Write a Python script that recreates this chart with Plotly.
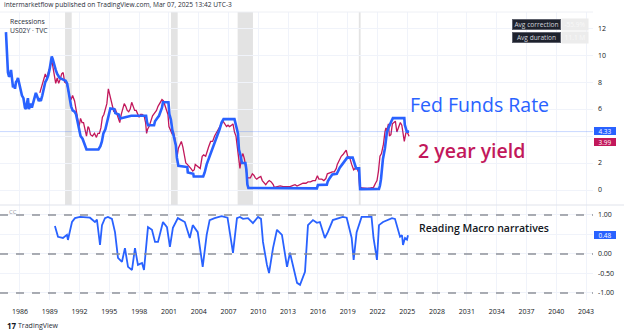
import plotly.graph_objects as go
from plotly.subplots import make_subplots

# ---- data (decimal years) ----
fed_funds_t = [1984.59, 1984.65, 1984.72, 1984.79, 1984.9, 1985.0, 1985.1, 1985.2, 1985.3, 1985.4, 1985.5,
               1985.6, 1985.7, 1985.8, 1985.9, 1986.0, 1986.1, 1986.2, 1986.35, 1986.5, 1986.6, 1986.7,
               1986.8, 1986.9, 1987.0, 1987.1, 1987.2, 1987.35, 1987.5, 1987.6, 1987.7, 1987.8, 1987.9,
               1988.0, 1988.1, 1988.25, 1988.4, 1988.55, 1988.7, 1988.85, 1989.0, 1989.1, 1989.2, 1989.3,
               1989.45, 1989.6, 1989.75, 1990.0, 1990.3, 1990.6, 1990.75, 1990.9, 1991.0, 1991.15, 1991.3,
               1991.5, 1991.65, 1991.8, 1991.95, 1992.1, 1992.3, 1992.55, 1992.7, 1993.9, 1994.1, 1994.25,
               1994.4, 1994.6, 1994.8, 1995.0, 1995.1, 1995.5, 1995.6, 1995.95, 1996.1, 1997.2, 1998.7,
               1998.8, 1998.9, 1999.5, 1999.6, 1999.8, 2000.0, 2000.15, 2000.3, 2000.4, 2000.95, 2001.05,
               2001.2, 2001.35, 2001.5, 2001.7, 2001.8, 2001.95, 2002.85, 2002.9, 2003.45, 2003.5, 2004.45,
               2004.6, 2004.8, 2005.0, 2005.3, 2005.6, 2005.9, 2006.1, 2006.3, 2006.5, 2007.6, 2007.75,
               2007.85, 2007.95, 2008.05, 2008.2, 2008.35, 2008.7, 2008.8, 2008.9, 2009.0, 2015.9, 2016.0,
               2016.9, 2017.0, 2017.2, 2017.45, 2017.9, 2018.0, 2018.2, 2018.45, 2018.7, 2018.95, 2019.5,
               2019.6, 2019.75, 2019.85, 2020.15, 2020.2, 2020.25, 2022.15, 2022.25, 2022.35, 2022.45,
               2022.55, 2022.75, 2022.85, 2022.95, 2023.1, 2023.25, 2023.4, 2023.55, 2024.7, 2024.75,
               2024.85, 2024.95, 2025.18]
fed_funds_v = [11.7, 11.0, 9.6, 8.7, 8.4, 8.5, 8.9, 8.1, 7.6, 7.8, 7.5,
               8.0, 8.1, 8.3, 8.0, 7.8, 7.3, 7.0, 6.8, 6.1, 6.0, 6.6,
               6.8, 6.0, 6.2, 6.4, 6.1, 6.6, 7.0, 7.2, 7.0, 6.8, 6.6,
               6.7, 6.6, 7.0, 7.6, 8.0, 8.2, 8.5, 9.0, 9.6, 9.9, 9.7,
               9.2, 8.9, 8.6, 8.3, 8.2, 8.1, 7.9, 7.3, 6.6, 6.2, 5.9,
               5.8, 5.6, 5.0, 4.4, 4.0, 3.8, 3.2, 3.0, 3.0, 3.25, 3.6,
               4.2, 4.5, 5.2, 5.9, 6.05, 6.0, 5.7, 5.6, 5.3, 5.5, 5.5,
               5.0, 4.8, 4.8, 5.1, 5.3, 5.5, 5.8, 6.1, 6.5, 6.5, 5.6,
               5.2, 4.4, 3.8, 3.3, 2.4, 1.8, 1.7, 1.3, 1.2, 1.0, 1.0,
               1.3, 1.9, 2.3, 2.8, 3.4, 4.0, 4.5, 5.0, 5.25, 5.25, 4.9,
               4.5, 4.2, 3.0, 2.6, 2.0, 2.0, 1.5, 0.4, 0.15, 0.12, 0.37,
               0.4, 0.65, 0.9, 1.15, 1.2, 1.4, 1.65, 1.9, 2.15, 2.4, 2.4,
               2.15, 1.9, 1.6, 1.6, 0.65, 0.07, 0.08, 0.33, 0.8, 1.6,
               2.3, 3.1, 3.8, 4.3, 4.6, 4.8, 5.1, 5.33, 5.33, 4.83,
               4.6, 4.33, 4.33]

us02y_t = [1988.0, 1988.15, 1988.3, 1988.4, 1988.55, 1988.7, 1988.9, 1989.0, 1989.2, 1989.3, 1989.45,
           1989.6, 1989.75, 1989.9, 1990.05, 1990.2, 1990.35, 1990.5, 1990.7, 1990.85, 1991.0, 1991.15,
           1991.3, 1991.5, 1991.6, 1991.75, 1991.95, 1992.1, 1992.25, 1992.4, 1992.55, 1992.7, 1992.85,
           1992.95, 1993.1, 1993.3, 1993.5, 1993.7, 1993.85, 1994.0, 1994.15, 1994.3, 1994.45, 1994.6,
           1994.75, 1994.9, 1995.0, 1995.15, 1995.3, 1995.45, 1995.6, 1995.8, 1995.95, 1996.05, 1996.2,
           1996.35, 1996.5, 1996.65, 1996.8, 1996.95, 1997.1, 1997.25, 1997.4, 1997.55, 1997.7, 1997.85,
           1998.0, 1998.15, 1998.3, 1998.5, 1998.65, 1998.75, 1998.85, 1999.0, 1999.2, 1999.35, 1999.55,
           1999.75, 1999.9, 2000.1, 2000.3, 2000.45, 2000.6, 2000.75, 2000.9, 2001.0, 2001.15, 2001.3,
           2001.45, 2001.6, 2001.75, 2001.85, 2001.95, 2002.1, 2002.25, 2002.4, 2002.55, 2002.7, 2002.85,
           2003.0, 2003.2, 2003.4, 2003.55, 2003.65, 2003.85, 2004.0, 2004.15, 2004.35, 2004.5, 2004.7,
           2004.85, 2005.0, 2005.2, 2005.4, 2005.6, 2005.8, 2006.0, 2006.2, 2006.45, 2006.6, 2006.8,
           2006.95, 2007.1, 2007.3, 2007.45, 2007.6, 2007.75, 2007.9, 2008.05, 2008.15, 2008.3, 2008.45,
           2008.6, 2008.75, 2008.9, 2009.05, 2009.2, 2009.4, 2009.55, 2009.7, 2009.85, 2010.0, 2010.25,
           2010.4, 2010.55, 2010.75, 2010.95, 2011.1, 2011.3, 2011.5, 2011.6, 2011.9, 2012.2, 2012.5,
           2012.9, 2013.2, 2013.5, 2013.7, 2013.9, 2014.2, 2014.5, 2014.8, 2015.0, 2015.25, 2015.5,
           2015.75, 2015.95, 2016.1, 2016.4, 2016.6, 2016.8, 2016.95, 2017.2, 2017.45, 2017.65, 2017.85,
           2017.95, 2018.15, 2018.35, 2018.55, 2018.75, 2018.85, 2019.0, 2019.2, 2019.4, 2019.6, 2019.75,
           2019.95, 2020.1, 2020.2, 2020.4, 2020.7, 2021.0, 2021.3, 2021.6, 2021.8, 2021.95, 2022.1,
           2022.25, 2022.4, 2022.5, 2022.6, 2022.75, 2022.85, 2022.95, 2023.1, 2023.2, 2023.35, 2023.5,
           2023.65, 2023.8, 2023.95, 2024.1, 2024.3, 2024.45, 2024.6, 2024.7, 2024.85, 2024.95, 2025.05,
           2025.18]
us02y_v = [7.2, 7.6, 7.9, 8.3, 8.6, 8.3, 8.9, 9.2, 9.6, 9.2, 8.4,
           7.9, 8.3, 7.9, 8.2, 8.6, 8.7, 8.0, 7.9, 7.3, 6.9, 6.7,
           7.0, 6.6, 6.2, 5.5, 4.7, 5.3, 5.0, 5.0, 4.4, 4.0, 4.7,
           4.6, 4.1, 4.0, 4.2, 3.9, 4.2, 4.2, 4.6, 5.4, 5.6, 6.0,
           6.4, 7.5, 7.2, 6.9, 6.4, 5.8, 6.0, 5.6, 5.2, 5.0, 5.6,
           6.1, 6.4, 6.2, 5.9, 5.8, 6.0, 6.5, 6.2, 5.9, 5.9, 5.7,
           5.4, 5.6, 5.6, 5.5, 5.0, 4.2, 4.5, 4.7, 5.1, 5.5, 5.7,
           5.9, 6.2, 6.5, 6.7, 6.6, 6.3, 6.0, 5.6, 4.7, 4.5, 4.2,
           4.3, 3.8, 3.0, 2.6, 3.1, 3.3, 3.6, 3.2, 2.4, 2.0, 1.9,
           1.8, 1.6, 1.4, 1.5, 1.9, 1.8, 1.7, 1.6, 2.5, 2.6, 2.5,
           2.9, 3.2, 3.6, 3.6, 4.0, 4.3, 4.5, 4.8, 5.1, 4.9, 4.7,
           4.8, 4.7, 4.8, 4.9, 4.3, 4.0, 3.1, 2.1, 1.6, 2.4, 2.7,
           2.3, 1.6, 0.9, 0.9, 0.9, 1.2, 1.1, 0.9, 0.8, 0.9, 1.0,
           0.7, 0.55, 0.4, 0.6, 0.7, 0.6, 0.4, 0.2, 0.25, 0.3, 0.25,
           0.25, 0.25, 0.35, 0.4, 0.3, 0.4, 0.5, 0.5, 0.6, 0.6, 0.7,
           0.7, 1.05, 0.8, 0.8, 0.7, 0.85, 1.2, 1.3, 1.35, 1.35, 1.6,
           1.9, 2.25, 2.5, 2.65, 2.85, 2.95, 2.5, 2.4, 1.9, 1.5, 1.6,
           1.6, 1.3, 0.25, 0.15, 0.13, 0.12, 0.15, 0.2, 0.5, 0.7, 1.4,
           2.5, 2.7, 3.0, 3.4, 4.3, 4.6, 4.4, 4.9, 4.0, 4.1, 4.9,
           5.0, 5.1, 4.3, 4.6, 5.0, 4.8, 4.2, 3.6, 4.2, 4.3, 4.2,
           3.99]

corr_t = [1989.52, 1989.83, 1990.33, 1990.73, 1990.83, 1991.24, 1991.54, 1992.04, 1993.05, 1993.55,
          1993.75, 1994.06, 1994.26, 1994.56, 1994.86, 1995.26, 1995.57, 1995.87, 1996.27, 1996.57,
          1996.88, 1997.28, 1997.58, 1997.88, 1998.29, 1998.49, 1998.89, 1999.29, 1999.6, 1999.9,
          2000.4, 2000.8, 2001.1, 2001.4, 2001.9, 2002.6, 2003.1, 2003.4, 2003.9, 2004.4, 2004.8,
          2005.1, 2005.6, 2006.3, 2006.9, 2007.45, 2007.85, 2008.15, 2008.46, 2008.96, 2009.46,
          2009.97, 2010.27, 2010.47, 2010.87, 2011.08, 2011.48, 2011.88, 2012.38, 2012.69, 2012.89,
          2013.19, 2013.49, 2013.9, 2014.2, 2014.7, 2015.0, 2015.5, 2015.9, 2016.2, 2016.7, 2017.0,
          2017.5, 2018.5, 2018.9, 2019.4, 2019.6, 2019.9, 2020.4, 2021.4, 2021.6, 2021.95, 2022.15,
          2022.56, 2023.46, 2023.76, 2024.27, 2024.47, 2024.57, 2024.77, 2024.97, 2025.07]
corr_v = [0.72, 0.44, 0.41, 0.49, 0.36, 0.82, 0.92, 0.95, 0.93, 0.82,
          0.88, 0.23, 0.74, 0.92, 0.95, 0.90, 0.56, -0.10, -0.20, 0.15,
          -0.33, -0.41, 0.15, -0.28, -0.23, -0.41, 0.69, 0.62, 0.31, 0.31,
          0.82, 0.69, 0.18, 0.67, 0.92, 0.82, 0.41, 0.74, 0.56, -0.33, 0.49,
          0.87, 0.92, 0.97, 0.93, 0.03, 0.92, 0.95, 0.90, 0.92, 0.79,
          0.95, 0.90, 0.31, -0.28, -0.49, 0.15, 0.62, 0.49, 0.05, -0.33,
          0.03, -0.28, -0.74, -0.79, -0.46, 0.74, 0.87, 0.80, 0.82, 0.41, 0.56,
          0.87, 0.95, 0.93, 0.41, -0.15, 0.56, 0.95, 0.95, 0.41, -0.15, 0.74,
          0.82, 0.92, 0.90, 0.44, 0.48, 0.23, 0.41, 0.37, 0.48]

recessions = [(1990.54, 1991.21), (2001.21, 2001.88), (2007.92, 2009.46), (2020.12, 2020.30)]

year_ticks = list(range(1986, 2044, 3))
price_ticks = [0, 2, 4, 6, 8, 10, 12]
# the "4" level sits under the last-value tags, so its label is left blank
price_tick_text = ["0", "2", "", "6", "8", "10", "12"]
corr_ticks = [-1.0, -0.5, 0.0, 0.5, 1.0]
corr_tick_text = ["-1.00", "-0.50", "0.00", "", "1.00"]

BLUE = "#2962ff"
CRIMSON = "#c2185b"
GRID = "#f0f3fa"
TXT = "#131722"
FONT = "Open Sans"

W, H = 624, 333
M_T, M_B, M_R = 12, 33, 31
PLOT_H = H - M_T - M_B
split = 95 / PLOT_H

fig = make_subplots(rows=2, cols=1, shared_xaxes=True, vertical_spacing=0)

fig.add_trace(go.Scatter(x=us02y_t, y=us02y_v, mode="lines",
                         line=dict(color=CRIMSON, width=1.3), hoverinfo="skip"), row=1, col=1)
fig.add_trace(go.Scatter(x=fed_funds_t, y=fed_funds_v, mode="lines",
                         line=dict(color=BLUE, width=2.6), hoverinfo="skip"), row=1, col=1)
fig.add_trace(go.Scatter(x=corr_t, y=corr_v, mode="lines",
                         line=dict(color=BLUE, width=1.8), hoverinfo="skip"), row=2, col=1)

x_range = [1983.99, 2043.7]
fig.update_xaxes(range=x_range, tickvals=year_ticks, showgrid=True, gridcolor=GRID, gridwidth=1,
                 zeroline=False, showline=False, ticks="")
fig.update_xaxes(showticklabels=False, row=1, col=1)
fig.update_xaxes(ticktext=[str(y) for y in year_ticks], tickfont=dict(family=FONT, size=7, color=TXT),
                 ticklabelstandoff=6, row=2, col=1)

fig.update_yaxes(side="right", range=[-1.11, 13.19], tickvals=price_ticks, ticktext=price_tick_text,
                 tickfont=dict(family=FONT, size=7, color=TXT), showgrid=True, gridcolor=GRID,
                 zeroline=False, ticks="", ticklabelstandoff=4, domain=[split, 1], row=1, col=1)
fig.update_yaxes(side="right", range=[-1.18, 1.256], tickvals=corr_ticks, ticktext=corr_tick_text,
                 tickfont=dict(family=FONT, size=7, color=TXT), showgrid=True, gridcolor=GRID,
                 zeroline=False, ticks="", ticklabelstandoff=4, domain=[0, split], row=2, col=1)

shapes = []
for a, b in recessions:
    shapes.append(dict(type="rect", xref="x", yref="y domain", x0=a, x1=b, y0=0, y1=1,
                       fillcolor="#e3e3e3", line=dict(width=0), layer="below"))
# last-value price line
shapes.append(dict(type="line", xref="paper", yref="y", x0=0, x1=1, y0=4.33, y1=4.33,
                   line=dict(color="rgba(41,98,255,0.25)", width=1)))
# correlation reference levels
for lvl in (1.0, 0.0, -1.0):
    shapes.append(dict(type="line", xref="paper", yref="y2", x0=0, x1=1, y0=lvl, y1=lvl,
                       line=dict(color="#8f929b", width=1.5, dash="8px,8px")))
# pane separator and top border
shapes.append(dict(type="line", xref="paper", yref="paper", x0=0, x1=W / (W - M_R), y0=split, y1=split,
                   line=dict(color="#e0e3eb", width=1)))
shapes.append(dict(type="line", xref="paper", yref="paper", x0=0, x1=1, y0=1, y1=1,
                   line=dict(color="#eef0f5", width=1)))

ann = []
def text(x, y, s, size, color, xanchor="left", weight=None, xref="paper", yref="paper", **kw):
    f = dict(family=FONT, size=size, color=color)
    if weight:
        f["weight"] = weight
    ann.append(dict(x=x, y=y, xref=xref, yref=yref, text=s, showarrow=False, xanchor=xanchor,
                    yanchor="middle", font=f, **kw))

def px_x(p):
    return p / (W - M_R)

def px_y(p):
    return (H - M_B - p) / PLOT_H

text(px_x(2), px_y(5), "intermarketflow published on TradingView.com, Mar 07, 2025 13:42 UTC-3", 6.6, "#2a2e39")
text(px_x(8), px_y(21), "Recessions", 6.8, "#2a2e39")
text(px_x(8), px_y(30), "US02Y · TVC", 6.8, "#2a2e39")
text(px_x(7), px_y(212), "CC", 6, "#9598a1")
text(px_x(408), px_y(104), "Fed Funds Rate", 19.5, BLUE)
text(px_x(416), px_y(150), "2 year yield", 19.5, CRIMSON, weight=600)
text(px_x(417), px_y(228), "Reading Macro narratives", 10.5, TXT, weight=600)

# stats box
for yy, lab, val in ((24.5, "Avg correction", "-55.9%"), (37.5, "Avg duration", "11.1 M")):
    ann.append(dict(x=px_x(536), y=px_y(yy), xref="paper", yref="paper", text=lab, showarrow=False,
                    xanchor="center", yanchor="middle", width=47, height=9, bgcolor="#1e222d",
                    bordercolor="#5d606b", borderwidth=1, borderpad=0,
                    font=dict(family=FONT, size=6.6, color="#d1d4dc")))
    ann.append(dict(x=px_x(575), y=px_y(yy), xref="paper", yref="paper", text=val, showarrow=False,
                    xanchor="center", yanchor="middle", width=24, height=9, bgcolor="#ececec",
                    borderpad=1, font=dict(family=FONT, size=6.6, color="#f8f8f8")))

# last value tags on the price scale (3.99 is pushed below 4.33 to avoid overlap)
for val, col, yr, shift in ((4.33, BLUE, "y", 1), (3.99, CRIMSON, "y", -6), (0.48, BLUE, "y2", 0)):
    ann.append(dict(x=1, y=val, xref="paper", yref=yr, text=f"{val:.2f}", showarrow=False,
                    xanchor="left", yanchor="middle", xshift=1, yshift=shift, width=22, height=8,
                    bgcolor=col, borderpad=0, borderwidth=0,
                    font=dict(family=FONT, size=6.4, color="white")))

text(px_x(5), px_y(325), "<b>17</b>", 8, TXT)
text(px_x(16), px_y(325), "TradingView", 7, "#2a2e39")

fig.update_layout(width=W, height=H, margin=dict(l=0, r=M_R, t=M_T, b=M_B),
                  plot_bgcolor="white", paper_bgcolor="white", showlegend=False,
                  shapes=shapes, annotations=ann)

fig.write_html("out.html")
